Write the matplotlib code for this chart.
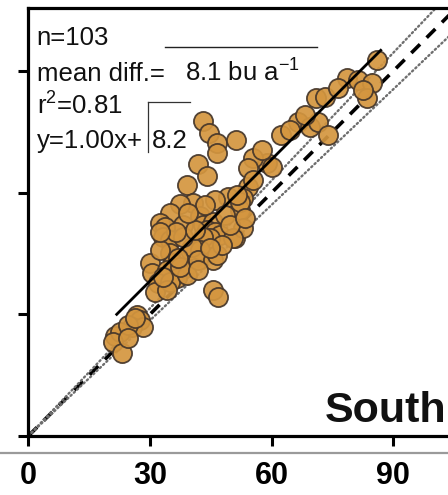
import numpy as np
import matplotlib
matplotlib.use("Agg")
import matplotlib.pyplot as plt
from matplotlib.lines import Line2D

plt.rcParams["font.family"] = ["Liberation Sans", "DejaVu Sans"]
plt.rcParams["mathtext.fontset"] = "custom"
plt.rcParams["mathtext.rm"] = "Liberation Sans"
plt.rcParams["mathtext.it"] = "Liberation Sans:italic"

# Observed (x) vs simulated (y) yield, bu/a, South region
obs = [86.0, 78.6, 81.3, 84.8, 83.5, 70.9, 73.2, 66.5, 69.5, 71.4,
       73.9, 62.3, 58.9, 60.1, 43.1, 44.6, 46.5, 46.5, 51.2, 41.8,
       44.1, 39.1, 55.4, 54.2, 54.2, 52.9, 49.2, 46.0, 40.6, 37.4,
       42.3, 34.9, 52.2, 52.2, 32.5, 38.1, 43.1, 33.7, 45.5, 44.1,
       46.0, 47.3, 51.0, 52.9, 50.5, 44.8, 33.2, 34.9, 43.1, 39.9,
       42.3, 34.9, 40.4, 38.1, 30.0, 35.7, 30.5, 34.2, 38.6, 36.7,
       32.0, 31.2, 34.9, 39.1, 34.2, 41.8, 45.5, 46.5, 37.4, 45.5,
       46.8, 26.8, 27.5, 25.6, 28.3, 21.4, 22.6, 20.9, 23.1, 24.6,
       48.5, 41.1, 36.9, 32.5, 43.6, 49.7, 39.4, 47.8, 36.4, 53.4,
       41.8, 33.2, 44.8, 51.5, 55.4, 24.6, 26.3, 57.6, 64.5, 76.4,
       82.5, 68.2, 32.5]
sim = [92.7, 88.3, 87.8, 87.0, 83.4, 83.4, 83.6, 77.4, 76.2, 77.4,
       74.2, 74.2, 67.3, 66.3, 77.7, 74.7, 72.3, 69.8, 73.0, 67.1,
       64.1, 61.9, 68.6, 66.1, 61.4, 58.7, 58.9, 58.2, 57.5, 57.2,
       54.3, 55.0, 55.7, 57.7, 52.5, 52.0, 52.0, 51.5, 52.8, 50.8,
       50.3, 49.6, 48.8, 51.3, 48.8, 48.8, 49.1, 48.3, 49.1, 45.9,
       45.9, 45.1, 46.6, 49.1, 42.7, 42.7, 40.2, 40.9, 41.4, 39.0,
       37.7, 35.5, 38.0, 39.7, 36.0, 43.4, 43.4, 44.6, 41.7, 36.0,
       34.3, 29.8, 28.6, 26.9, 26.9, 24.7, 25.6, 23.2, 20.5, 27.4,
       54.5, 50.8, 43.9, 45.9, 57.0, 52.0, 55.0, 47.1, 50.3, 53.8,
       40.9, 39.2, 46.4, 59.4, 63.1, 24.2, 29.1, 70.5, 75.5, 85.8,
       85.3, 79.2, 50.3]

n_obs = 103
mean_diff = 8.1
r2 = 0.81
slope, intercept = 1.00, 8.2
band = 0.05          # +/- 5 % around the 1:1 line
fit_range = (21.8, 86.9)
ticks = [0, 30, 60, 90]
region = "South"

fig = plt.figure(figsize=(4.48, 4.95), dpi=100)
ax = fig.add_axes([28.3 / 448, 59 / 495, (470 - 28.3) / 448, 428 / 495])
ax.set_xlim(0, (470 - 28.3) / 4.0556)
ax.set_ylim(0, 428 / 4.0556)

xx = np.array([0, 110])
ax.plot(xx, xx, color="black", lw=2.6, ls=(0, (3.4, 2.6)), zorder=2)
ax.plot(xx, xx * (1 + band), color="#6e6e6e", lw=1.7, ls=(0, (0.6, 1.3)),
        dash_capstyle="round", zorder=2)
ax.plot(xx, xx * (1 - band), color="#6e6e6e", lw=1.7, ls=(0, (0.6, 1.3)),
        dash_capstyle="round", zorder=2)

ax.scatter(obs, sim, s=190, facecolor="#D4963F", edgecolor="#45362a",
           linewidth=1.3, alpha=0.92, zorder=3)

fx = np.array(fit_range)
ax.plot(fx, slope * fx + intercept, color="black", lw=2.0, zorder=4)

# annotation block
fs = 18.5
ax.text(2.1, 96.4, f"n={n_obs}", fontsize=fs, va="baseline", color="#111")
ax.text(2.1, 87.5, "mean diff.=", fontsize=fs, va="baseline", color="#111")
ax.text(38.6, 87.5, f"{mean_diff} bu a$^{{-1}}$", fontsize=fs, va="baseline",
        color="#111")
ax.text(2.1, 79.2, f"r$^{{2}}$={r2}", fontsize=fs, va="baseline", color="#111")
ax.text(2.1, 71.0, f"y={slope:.2f}x+", fontsize=fs, va="baseline", color="#111")
ax.text(30.5, 71.0, f"{intercept}", fontsize=fs, va="baseline", color="#111")
ax.plot([33.7, 71.2], [95.9, 95.9], color="#222", lw=1.0, zorder=5)
ax.plot([29.5, 39.9], [82.4, 82.4], color="#333", lw=0.9, zorder=5)
ax.plot([29.5, 29.5], [82.4, 70.0], color="#333", lw=0.9, zorder=5)

ax.text(73.0, 3.5, region, fontsize=31, fontweight="bold", va="baseline",
        color="#111")

for side in ["left", "top", "bottom"]:
    ax.spines[side].set_linewidth(2.3)
    ax.spines[side].set_color("black")
ax.spines["right"].set_visible(False)

ax.set_xticks(ticks)
ax.set_yticks(ticks)
ax.tick_params(axis="both", direction="out", length=7, width=2.2, color="black")
ax.tick_params(axis="y", labelleft=False)
ax.tick_params(axis="x", pad=11, labelsize=22)
for lab in ax.get_xticklabels():
    lab.set_fontweight("bold")

fig.add_artist(Line2D([0, 1], [(495 - 453) / 495] * 2, transform=fig.transFigure,
                      color="#9a9a9a", lw=1.6))

fig.savefig("out.png", dpi=100)
